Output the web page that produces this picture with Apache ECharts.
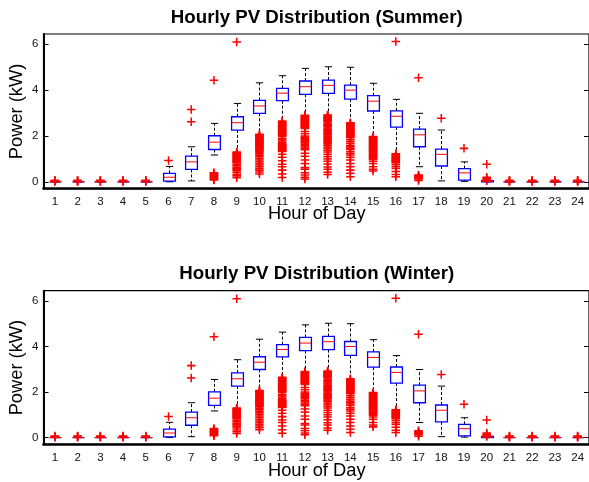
<!DOCTYPE html>
<html><head><meta charset="utf-8">
<script src="https://cdn.jsdelivr.net/npm/echarts@6/dist/echarts.min.js"></script>
<style>html,body{margin:0;padding:0;background:#fff}#c{width:589px;height:482px}</style>
</head><body><div id="c"></div>
<script>
// ---------------- data ----------------
const hours = ['1','2','3','4','5','6','7','8','9','10','11','12','13','14','15','16','17','18','19','20','21','22','23','24'];
const yTicks = [0, 2, 4, 6];

// box statistics per hour: lower whisker, Q1, median, Q3, upper whisker
const summerLow  = [0,0,0,0,0, 0,    0.04, 1.17, 1.27, 2.04, 2.62, 2.87, 2.89, 2.55, 1.95, 1.19, 0.66, 0.04, 0.02, 0,    0,0,0,0];
const summerQ1   = [0,0,0,0,0, 0.03, 0.54, 1.41, 2.26, 2.99, 3.54, 3.82, 3.86, 3.61, 3.09, 2.39, 1.53, 0.69, 0.07, 0,    0,0,0,0];
const summerMed  = [0,0,0,0,0, 0.20, 0.87, 1.73, 2.58, 3.31, 3.87, 4.15, 4.21, 4.00, 3.52, 2.86, 2.05, 1.20, 0.39, 0.02, 0,0,0,0];
const summerQ3   = [0,0,0,0,0, 0.37, 1.12, 2.01, 2.84, 3.55, 4.08, 4.40, 4.44, 4.22, 3.76, 3.10, 2.30, 1.43, 0.58, 0.05, 0,0,0,0];
const summerHigh = [0,0,0,0,0, 0.67, 1.53, 2.55, 3.42, 4.32, 4.63, 4.95, 5.02, 5.00, 4.30, 3.60, 2.99, 2.26, 0.87, 0.08, 0,0,0,0];

// outliers per hour (one list per hour, hour 1..24)
const summerOutliers = [
  [0.01, 0.03, 0.05, 0.07],
  [0.01, 0.03, 0.05, 0.07],
  [0.01, 0.03, 0.05, 0.07],
  [0.01, 0.03, 0.05, 0.07],
  [0.01, 0.03, 0.05, 0.07],
  [0.93],
  [3.16, 2.62],
  [4.43, 0.4, 0.37, 0.34, 0.31, 0.28, 0.25, 0.22, 0.19, 0.16, 0.13, 0.1, 0.08],
  [6.1, 1.3, 1.27, 1.24, 1.21, 1.18, 1.15, 1.12, 1.09, 1.06, 1.03, 1.0, 0.97, 0.94, 0.91, 0.88, 0.85, 0.82, 0.74, 0.7, 0.63, 0.58, 0.55, 0.48, 0.42, 0.33, 0.26, 0.18],
  [2.07, 2.04, 2.01, 1.98, 1.95, 1.92, 1.89, 1.86, 1.83, 1.8, 1.77, 1.74, 1.71, 1.68, 1.65, 1.62, 1.59, 1.56, 1.53, 1.5, 1.47, 1.44, 1.41, 1.38, 1.34, 1.28, 1.22, 1.16, 1.09, 1.02, 0.95, 0.88, 0.8, 0.73, 0.66, 0.58, 0.51, 0.43, 0.34],
  [2.65, 2.62, 2.59, 2.56, 2.53, 2.5, 2.47, 2.44, 2.41, 2.38, 2.35, 2.32, 2.29, 2.26, 2.23, 2.2, 2.17, 2.14, 2.11, 2.08, 2.05, 2.02, 1.99, 1.9, 1.84, 1.78, 1.72, 1.66, 1.62, 1.59, 1.56, 1.53, 1.5, 1.47, 1.44, 1.41, 1.38, 1.35, 1.32, 1.2, 1.07, 0.92, 0.77, 0.66, 0.51, 0.34, 0.19],
  [2.9, 2.87, 2.84, 2.81, 2.78, 2.75, 2.72, 2.69, 2.66, 2.63, 2.6, 2.57, 2.54, 2.51, 2.48, 2.45, 2.42, 2.39, 2.36, 2.33, 2.2, 2.1, 2.0, 1.95, 1.9, 1.85, 1.8, 1.76, 1.7, 1.64, 1.58, 1.52, 1.46, 1.4, 1.25, 1.12, 0.95, 0.8, 0.62, 0.55, 0.4, 0.3, 0.2, 0.12],
  [2.92, 2.89, 2.86, 2.83, 2.8, 2.77, 2.74, 2.71, 2.68, 2.65, 2.62, 2.55, 2.5, 2.45, 2.4, 2.35, 2.3, 2.25, 2.2, 2.15, 2.1, 2.05, 2.0, 1.95, 1.9, 1.85, 1.8, 1.75, 1.7, 1.65, 1.6, 1.52, 1.45, 1.38, 1.3, 1.2, 1.1, 1.0, 0.9, 0.78, 0.65, 0.55, 0.42, 0.32],
  [2.58, 2.55, 2.52, 2.49, 2.46, 2.43, 2.4, 2.37, 2.34, 2.31, 2.28, 2.25, 2.22, 2.19, 2.16, 2.13, 2.1, 2.07, 2.04, 2.01, 1.98, 1.95, 1.92, 1.84, 1.76, 1.68, 1.6, 1.53, 1.47, 1.41, 1.31, 1.24, 1.17, 1.07, 0.95, 0.8, 0.66, 0.51, 0.37, 0.22],
  [1.98, 1.95, 1.92, 1.89, 1.86, 1.83, 1.8, 1.77, 1.74, 1.71, 1.68, 1.65, 1.62, 1.59, 1.56, 1.53, 1.5, 1.47, 1.44, 1.41, 1.38, 1.35, 1.32, 1.29, 1.26, 1.23, 1.2, 1.17, 1.14, 1.11, 1.08, 1.05, 1.02, 0.98, 0.9, 0.8, 0.66, 0.55, 0.47],
  [6.12, 1.22, 1.19, 1.16, 1.13, 1.1, 1.07, 1.04, 1.01, 0.98, 0.95, 0.92, 0.89, 0.86, 0.83, 0.75, 0.66, 0.58, 0.45, 0.32, 0.22],
  [4.54, 0.3, 0.27, 0.24, 0.21, 0.18, 0.15, 0.12, 0.06],
  [2.77],
  [1.46],
  [0.77, 0.2, 0.16, 0.12, 0.08, 0.05],
  [0.01, 0.03, 0.05, 0.07],
  [0.01, 0.03, 0.05, 0.07],
  [0.01, 0.03, 0.05, 0.07],
  [0.01, 0.03, 0.05, 0.07]
];

// The winter panel of the reference shows the same distribution as the summer panel.
const winterLow = summerLow, winterQ1 = summerQ1, winterMed = summerMed, winterQ3 = summerQ3, winterHigh = summerHigh;
const winterOutliers = summerOutliers;

// ---------------- chart ----------------
const FONT = '"Liberation Sans", Arial, Helvetica, sans-serif';
const chart = echarts.init(document.getElementById('c'), null, {renderer: 'canvas'});

const PLUS = 'path://M4.1,0L5.9,0L5.9,4.1L10,4.1L10,5.9L5.9,5.9L5.9,10L4.1,10L4.1,5.9L0,5.9L0,4.1L4.1,4.1Z';

function boxData(low, q1, med, q3, high) {
  return hours.map((h, i) => [i, low[i], q1[i], med[i], q3[i], high[i]]);
}
function outlierData(list) {
  const out = [];
  list.forEach((vals, i) => vals.forEach(v => out.push([i, v])));
  return out;
}
function renderBox(params, api) {
  const i = api.value(0);
  const pLow = api.coord([i, api.value(1)]);
  const pQ1 = api.coord([i, api.value(2)]);
  const pMed = api.coord([i, api.value(3)]);
  const pQ3 = api.coord([i, api.value(4)]);
  const pHigh = api.coord([i, api.value(5)]);
  const band = api.size([1, 0])[0];
  const bw = band * 0.52, cw = band * 0.32;
  const x = Math.round(pMed[0]) + 0.5;
  const dash = {stroke: '#000', lineWidth: 1, lineDash: [3, 2], fill: null};
  const solid = {stroke: '#000', lineWidth: 1, fill: null};
  return {type: 'group', children: [
    {type: 'line', shape: {x1: x, y1: pQ3[1], x2: x, y2: pHigh[1]}, style: dash},
    {type: 'line', shape: {x1: x, y1: pQ1[1], x2: x, y2: pLow[1]}, style: dash},
    {type: 'line', shape: {x1: x - cw / 2, y1: pHigh[1], x2: x + cw / 2, y2: pHigh[1]}, style: solid},
    {type: 'line', shape: {x1: x - cw / 2, y1: pLow[1], x2: x + cw / 2, y2: pLow[1]}, style: solid},
    {type: 'rect', shape: {x: x - bw / 2, y: pQ3[1], width: bw, height: pQ1[1] - pQ3[1]}, style: {stroke: '#0000ff', lineWidth: 1.3, fill: null}},
    {type: 'line', shape: {x1: x - bw / 2, y1: pMed[1], x2: x + bw / 2, y2: pMed[1]}, style: {stroke: '#ff0000', lineWidth: 1, fill: null}}
  ]};
}

const grids = [
  {left: 43.5, top: 34, width: 546.5, height: 154.7, show: true, borderColor: '#000', borderWidth: 1.2, backgroundColor: '#fff'},
  {left: 43.5, top: 290.7, width: 546.5, height: 153.7, show: true, borderColor: '#000', borderWidth: 1.2, backgroundColor: '#fff'}
];

const xAxes = [], yAxes = [], series = [];
const panels = [
  {low: summerLow, q1: summerQ1, med: summerMed, q3: summerQ3, high: summerHigh, out: summerOutliers},
  {low: winterLow, q1: winterQ1, med: winterMed, q3: winterQ3, high: winterHigh, out: winterOutliers}
];
panels.forEach((p, g) => {
  xAxes.push({
    type: 'category', data: hours, gridIndex: g, boundaryGap: true,
    axisLine: {show: true, onZero: false, lineStyle: {color: '#000', width: 2.6}},
    axisTick: {show: false},
    axisLabel: {color: '#111', fontFamily: FONT, fontSize: 11.5, margin: 7, interval: 0},
    splitLine: {show: false}
  });
  yAxes.push({
    type: 'value', gridIndex: g, min: -0.3, max: 6.45, position: 'left',
    axisLine: {show: true, onZero: false, lineStyle: {color: '#000', width: 2}},
    axisTick: {show: true, inside: true, length: 5, lineStyle: {color: '#000', width: 1}, customValues: yTicks},
    axisLabel: {color: '#111', fontFamily: FONT, fontSize: 11.5, margin: 5, customValues: yTicks},
    splitLine: {show: false}
  });
  yAxes.push({
    type: 'value', gridIndex: g, min: -0.3, max: 6.45, position: 'right',
    axisLine: {show: true, onZero: false, lineStyle: {color: '#000', width: 1}},
    axisTick: {show: true, inside: true, length: 5, lineStyle: {color: '#000', width: 1}, customValues: yTicks},
    axisLabel: {show: false},
    splitLine: {show: false}
  });
  series.push({
    type: 'custom', xAxisIndex: g, yAxisIndex: g * 2, renderItem: renderBox,
    encode: {x: 0, y: [1, 2, 3, 4, 5]}, data: boxData(p.low, p.q1, p.med, p.q3, p.high), z: 2, silent: true
  });
  series.push({
    type: 'scatter', xAxisIndex: g, yAxisIndex: g * 2, symbol: PLUS, symbolSize: 8.5,
    itemStyle: {color: '#ff0000', opacity: 1}, data: outlierData(p.out), z: 3, silent: true
  });
});

const titleStyle = {fill: '#000', font: 'bold 18.7px ' + FONT, textAlign: 'center', textVerticalAlign: 'middle'};
const nameStyle = {fill: '#000', font: '18.3px ' + FONT, textAlign: 'center', textVerticalAlign: 'middle'};

chart.setOption({
  animation: false,
  backgroundColor: '#fff',
  grid: grids,
  xAxis: xAxes,
  yAxis: yAxes,
  series: series,
  graphic: [
    {type: 'text', x: 316.75, y: 17.5, style: Object.assign({text: 'Hourly PV Distribution (Summer)'}, titleStyle)},
    {type: 'text', x: 316.75, y: 274.2, style: Object.assign({text: 'Hourly PV Distribution (Winter)'}, titleStyle)},
    {type: 'text', x: 316.75, y: 214, style: Object.assign({text: 'Hour of Day'}, nameStyle)},
    {type: 'text', x: 316.75, y: 470.7, style: Object.assign({text: 'Hour of Day'}, nameStyle)},
    {type: 'text', x: 17.3, y: 111.4, rotation: Math.PI / 2, style: Object.assign({text: 'Power (kW)'}, nameStyle)},
    {type: 'text', x: 17.3, y: 367.6, rotation: Math.PI / 2, style: Object.assign({text: 'Power (kW)'}, nameStyle)}
  ]
});
</script>
</body></html>
